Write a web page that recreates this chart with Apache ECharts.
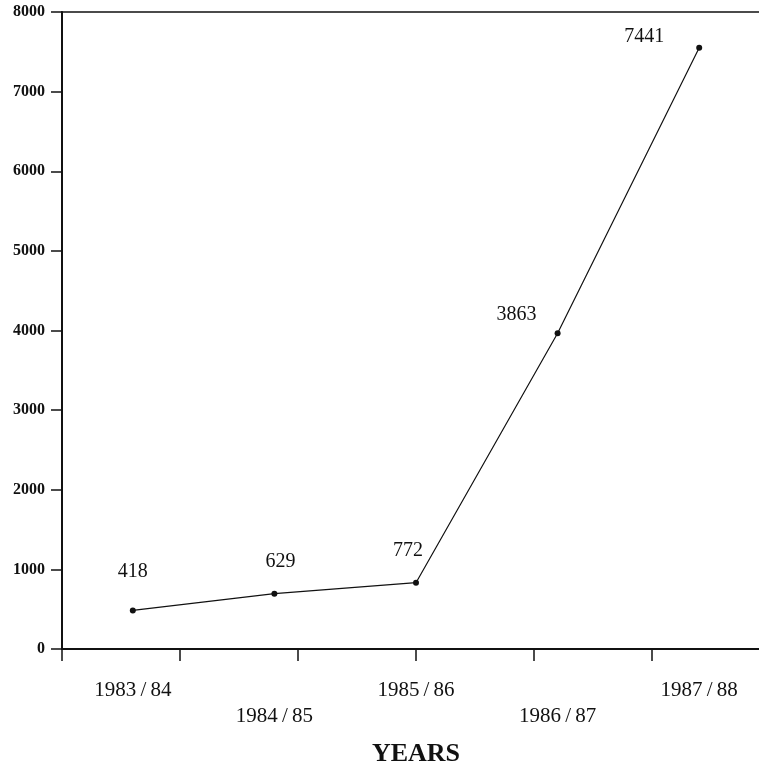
<!DOCTYPE html>
<html style="height: 100%">

<head>
    <meta charset="utf-8" />
    <title>Years chart</title>
    <script src="https://cdn.jsdelivr.net/npm/echarts@6/dist/echarts.min.js"></script>
</head>

<body style="height: 100%; margin: 0; overflow: hidden; background: #fff">
    <div id="container" style="width: 759px; height: 767px"></div>
    <script>
        // categories on the x axis
        var years = ["1983/84", "1984/85", "1985/86", "1986/87", "1987/88"];
        // numbers printed next to the points
        var printedValues = [418, 629, 772, 3863, 7441];
        // where the points actually sit on the y scale
        var plottedValues = [485, 695, 833, 3965, 7552];
        // y scale
        var yMin = 0, yMax = 8000, yStep = 1000;
        // minor tick marks along the x axis (6 divisions of the axis)
        var xTickMin = 0, xTickMax = 6, xTickStep = 1;

        var serif = "Liberation Serif";
        var ink = "#111";

        // label nudges, one per point
        var labelNudge = [[0, -21], [6, -14], [-8, -14], [-41, -1], [-55, 7]];

        var dom = document.getElementById("container");
        var myChart = echarts.init(dom, null, { renderer: "canvas" });

        var seriesData = plottedValues.map(function (v, i) {
            return {
                value: v,
                label: { offset: labelNudge[i], formatter: String(printedValues[i]) }
            };
        });

        var option = {
            animation: false,
            backgroundColor: "#fff",
            grid: {
                left: 62, top: 12, right: -11, bottom: 118,
                show: true, borderColor: ink, borderWidth: 1.5,
                containLabel: false,
                outerBoundsMode: "none"
            },
            xAxis: [
                {
                    type: "category",
                    data: years,
                    position: "bottom",
                    boundaryGap: true,
                    axisLine: { lineStyle: { color: ink, width: 2 } },
                    axisTick: { show: false },
                    axisLabel: {
                        color: ink, fontFamily: serif, fontSize: 21,
                        lineHeight: 26, margin: 28,
                        formatter: function (v, i) {
                            var t = v.replace("/", "\u2009/\u2009");
                            return i % 2 ? "\n" + t : t;
                        }
                    },
                    name: "YEARS",
                    nameLocation: "middle",
                    nameGap: 92,
                    nameTextStyle: { color: ink, fontFamily: serif, fontSize: 26, fontWeight: "bold" },
                    splitLine: { show: false }
                },
                {
                    type: "value",
                    position: "bottom",
                    min: xTickMin, max: xTickMax, interval: xTickStep,
                    axisLine: { show: false },
                    axisTick: { show: true, length: 12, lineStyle: { color: ink, width: 1.5 } },
                    axisLabel: { show: false },
                    splitLine: { show: false }
                }
            ],
            yAxis: {
                type: "value",
                min: yMin, max: yMax, interval: yStep,
                axisLine: { show: true, lineStyle: { color: ink, width: 2 } },
                axisTick: { show: true, length: 11, lineStyle: { color: ink, width: 1.5 } },
                axisLabel: {
                    color: ink, fontFamily: serif, fontSize: 16, fontWeight: "bold", margin: 17,
                    formatter: function (v) { return String(v); }
                },
                splitLine: { show: false }
            },
            series: [
                {
                    type: "line",
                    xAxisIndex: 0,
                    yAxisIndex: 0,
                    data: seriesData,
                    symbol: "circle",
                    symbolSize: 6,
                    itemStyle: { color: ink },
                    lineStyle: { color: ink, width: 1.2 },
                    label: {
                        show: true, position: "top", distance: 5,
                        color: ink, fontFamily: serif, fontSize: 20
                    }
                }
            ]
        };
        myChart.setOption(option);
    </script>
</body>

</html>
